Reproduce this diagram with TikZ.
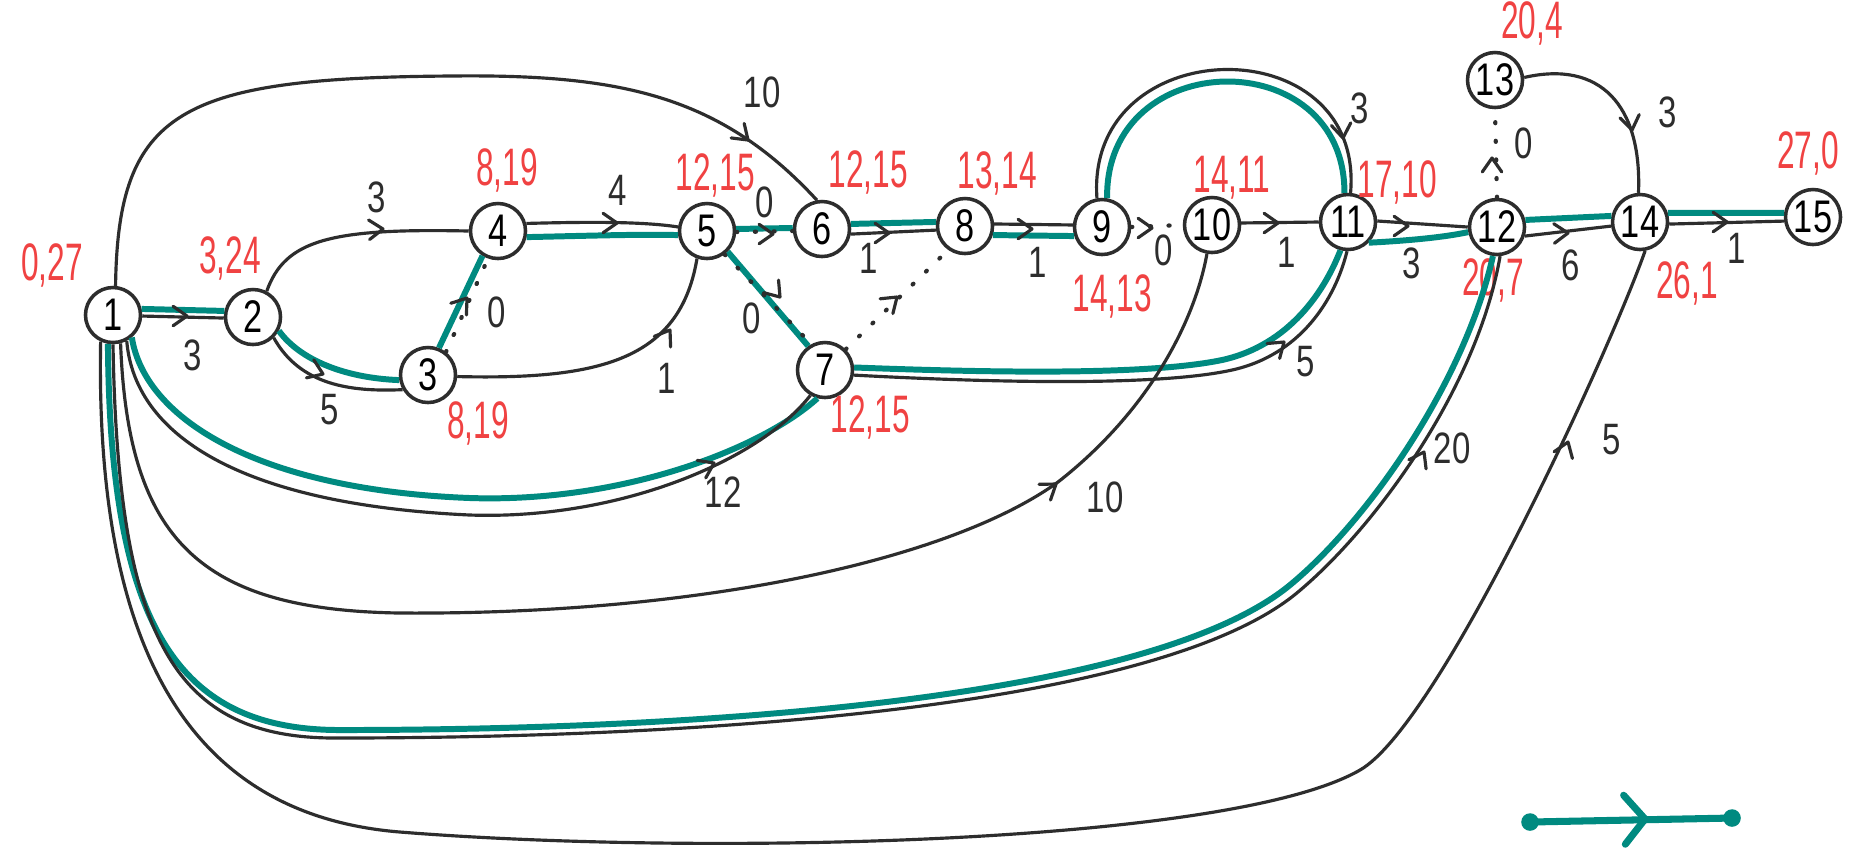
\documentclass[tikz,border=0pt]{standalone}
\usepackage{fontspec}
\setmainfont{Liberation Sans}
\newfontfamily\handfont[FakeStretch=0.6]{Liberation Sans}
\newfontfamily\digfont[FakeStretch=0.75]{Liberation Sans}
\definecolor{inkred}{RGB}{240,66,66}
\definecolor{inkteal}{RGB}{0,138,128}
\definecolor{ink}{RGB}{45,45,45}
\tikzset{
  ev/.style={circle, draw=ink, line width=1pt, fill=white, minimum size=0.55cm, inner sep=0pt, font=\digfont\fontsize{13}{13}\selectfont},
  est/.style={text=inkred, font=\handfont\fontsize{15}{15}\selectfont, inner sep=0pt},
  dur/.style={text=ink, font=\digfont\fontsize{12.5}{12.5}\selectfont, inner sep=0pt},
  act/.style={draw=ink, line width=0.9pt},
  dum/.style={draw=ink, line width=1.2pt, dash pattern=on 0.3pt off 5pt, line cap=round},
  crit/.style={draw=inkteal, line width=1.7pt},
  chevstyle/.style={draw=ink, line width=0.9pt, line cap=round, line join=round},
}
\newcommand\chev[2]{\draw[chevstyle] (#1) ++(#2+215:17) -- (#1) -- ++(#2+145:17);}
\begin{document}
\begin{tikzpicture}[x=0.01cm, y=-0.01cm]
\fill[white] (0,0) rectangle (1874,850);
\useasboundingbox (0,0) rectangle (1874,850);

% events
\node[ev] (n1) at (113,315) {1};
\node[ev] (n2) at (253,317) {2};
\node[ev] (n3) at (428,375) {3};
\node[ev] (n4) at (498,231) {4};
\node[ev] (n5) at (707,231) {5};
\node[ev] (n6) at (822,229) {6};
\node[ev] (n7) at (825,370) {7};
\node[ev] (n8) at (965,226) {8};
\node[ev] (n9) at (1102,227) {9};
\node[ev] (n10) at (1212,225) {10};
\node[ev] (n11) at (1348,222) {11};
\node[ev] (n12) at (1497,227) {12};
\node[ev] (n13) at (1495,80) {13};
\node[ev] (n14) at (1640,222) {14};
\node[ev] (n15) at (1813,217) {15};

% earliest / slack labels
\node[est] (e1) at (52,265) {0,27};
\node[est] (e2) at (230,258) {3,24};
\node[est] (e3) at (478,423) {8,19};
\node[est] (e4) at (507,170) {8,19};
\node[est] (e5) at (715,175) {12,15};
\node[est] (e6) at (868,172) {12,15};
\node[est] (e7) at (870,417) {12,15};
\node[est] (e8) at (997,173) {13,14};
\node[est] (e9) at (1112,296) {14,13};
\node[est] (e10) at (1232,178) {14,11};
\node[est] (e11) at (1397,182) {17,10};
\node[est] (e12) at (1493,280) {20,7};
\node[est] (e13) at (1532,23) {20,4};
\node[est] (e14) at (1687,283) {26,1};
\node[est] (e15) at (1808,153) {27,0};

% 1-2
\draw[crit] (n1.12) -- (n2.168);
\draw[act] (n1.-2) -- (n2.182);
\chev{187,316}{0}
\node[dur] (d12) at (193,355) {3};
% 2-4
\draw[act] (n2.62) .. controls (285,240) and (330,228) .. (n4.180);
\chev{383,229}{-3}
\node[dur] (d24) at (377,197) {3};
% 2-3
\draw[crit] (n2.-28) .. controls (300,360) and (345,378) .. (n3.-170);
\draw[act] (n2.-45) .. controls (300,385) and (350,392) .. (n3.-150);
\chev{323,374}{22}
\node[dur] (d23) at (330,410) {5};
% 3-4
\draw[crit] (n3.68) -- (n4.238);
\draw[dum] (n3.52) -- (n4.250);
\chev{467,298}{-53}
\node[dur] (d34) at (497,312) {0};
% 3-5
\draw[act] (n3.-3) .. controls (600,380) and (680,360) .. (n5.-110);
\chev{670,330}{-57}
\node[dur] (d35) at (667,378) {1};
% 4-5
\draw[act] (n4.15) .. controls (580,222) and (640,221) .. (n5.172);
\draw[crit] (n4.-12) .. controls (580,236) and (640,234) .. (n5.188);
\chev{617,223}{0}
\node[dur] (d45) at (618,190) {4};
% 5-6
\draw[crit] (n5.4) -- (n6.178);
\draw[dum] (n5.-2) -- (n6.184);
\chev{773,234}{0}
\node[dur] (d56) at (765,202) {0};
% 5-7
\draw[crit] (n5.-45) -- (n7.125);
\draw[dum] (n5.-53) -- (n7.118);
\chev{780,297}{50}
\node[dur] (d57) at (752,318) {0};
% 1-6
\draw[act] (n1.85) .. controls (118,110) and (180,78) .. (450,76) .. controls (620,74) and (720,95) .. (n6.100);
\chev{748,140}{42}
\node[dur] (d16) at (762,92) {10};
% 6-8
\draw[crit] (n6.10) -- (n8.172);
\draw[act] (n6.-10) -- (n8.188);
\chev{889,233}{0}
\node[dur] (d68) at (869,258) {1};
% 7-8
\draw[dum] (n7.45) -- (n8.235);
\chev{897,297}{-41}
% 8-9
\draw[act] (n8.4) -- (n9.176);
\draw[crit] (n8.-18) -- (n9.-162);
\chev{1032,229}{0}
\node[dur] (d89) at (1038,262) {1};
% 9-10
\draw[dum] (n9.0) -- (n10.180);
\chev{1152,228}{0}
\node[dur] (d910) at (1164,250) {0};
% 9-11
\draw[crit] (n9.80) .. controls (1105,45) and (1345,42) .. (n11.97);
\draw[act] (n9.100) .. controls (1085,30) and (1365,25) .. (n11.85);
\chev{1343,138}{82}
\node[dur] (d911) at (1360,108) {3};
% 10-11
\draw[act] (n10.4) -- (n11.180);
\chev{1278,223}{0}
\node[dur] (d1011) at (1287,252) {1};
% 7-11
\draw[crit] (n7.5) .. controls (1000,373) and (1150,375) .. (1222,360) .. controls (1290,345) and (1325,290) .. (n11.-105);
\draw[act] (n7.-10) .. controls (1000,383) and (1160,386) .. (1232,370) .. controls (1300,355) and (1335,300) .. (n11.-92);
\chev{1284,342}{-40}
\node[dur] (d711) at (1306,362) {5};
% 1-10
\draw[act] (n1.-75) .. controls (128,540) and (200,610) .. (400,613) .. controls (700,615) and (950,560) .. (1058,482) .. controls (1150,410) and (1195,320) .. (n10.-100);
\chev{1056,484}{-36}
\node[dur] (d110) at (1105,497) {10};
% 1-7
\draw[crit] (n1.-50) .. controls (145,420) and (260,490) .. (470,498) .. controls (620,503) and (760,450) .. (n7.-105);
\draw[act] (n1.-62) .. controls (135,440) and (250,505) .. (470,515) .. controls (620,520) and (760,460) .. (n7.-120);
\chev{714,463}{-26}
\node[dur] (d17) at (723,492) {12};
% 1-12
\draw[crit] (n1.-100) .. controls (110,630) and (180,730) .. (340,730) .. controls (700,730) and (1150,700) .. (1290,585) .. controls (1370,519) and (1465,380) .. (n12.-98);
\draw[act] (n1.-90) .. controls (118,640) and (175,738) .. (335,738) .. controls (700,738) and (1160,708) .. (1298,592) .. controls (1378,525) and (1478,385) .. (n12.-84);
\chev{1424,452}{-62}
\node[dur] (d112) at (1452,448) {20};
% 1-14
\draw[act] (n1.-115) .. controls (95,650) and (190,815) .. (400,832) .. controls (700,856) and (1230,845) .. (1360,770) .. controls (1440,724) and (1610,350) .. (n14.-80);
\chev{1568,442}{-70}
\node[dur] (d114) at (1612,440) {5};
% 11-12
\draw[act] (n11.2) -- (n12.180);
\draw[crit] (n11.-45) .. controls (1420,240) and (1450,236) .. (n12.190);
\chev{1408,226}{0}
\node[dur] (d1112) at (1412,263) {3};
% 12-13
\draw[dum] (n12.90) -- (n13.-90);
\chev{1492,158}{-90}
\node[dur] (d1213) at (1524,143) {0};
% 13-14
\draw[act] (n13.5) .. controls (1600,60) and (1642,105) .. (n14.93);
\chev{1632,130}{80}
\node[dur] (d1314) at (1668,112) {3};
% 12-14
\draw[crit] (n12.14) -- (n14.168);
\draw[act] (n12.-18) -- (n14.-172);
\chev{1568,233}{-2}
\node[dur] (d1214) at (1571,265) {6};
% 14-15
\draw[crit] (n14.18) -- (n15.172);
\draw[act] (n14.-4) -- (n15.-172);
\chev{1727,222}{0}
\node[dur] (d1415) at (1737,248) {1};

% legend: critical path
\coordinate (la) at (1530,822);
\coordinate (lb) at (1732,818);
\coordinate (lt) at (1645,819);
\draw[crit, line width=2pt] (la) -- (lb);
\fill[inkteal] (la) circle (2.5pt) (lb) circle (2.5pt);
\draw[crit, line width=2pt, line cap=round] (lt) ++(228:32) -- (lt) -- ++(128:32);
\end{tikzpicture}
\end{document}
